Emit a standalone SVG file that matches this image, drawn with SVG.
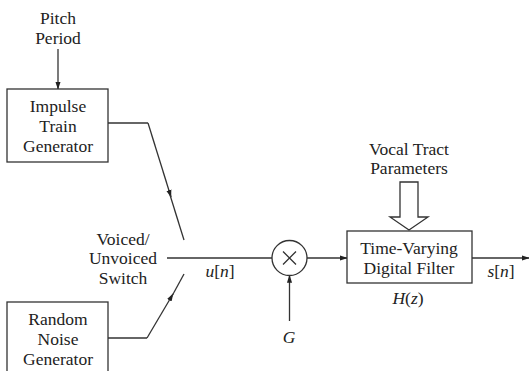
<svg xmlns="http://www.w3.org/2000/svg" width="529" height="371" viewBox="0 0 529 371">
<defs>
<style>
text{font-family:"Liberation Serif","Times New Roman",serif;font-size:17.5px;fill:#222;text-anchor:middle}
.it{font-style:italic}
.box{fill:#fff;stroke:#333;stroke-width:1.3}
.ln{fill:none;stroke:#333;stroke-width:1.3}
</style>
<marker id="ah" viewBox="0 0 10 10" refX="9" refY="5" markerWidth="8" markerHeight="8" markerUnits="userSpaceOnUse" orient="auto"><path d="M0,1.8 L10,5 L0,8.2 z" fill="#222"/></marker>
</defs>
<rect width="529" height="371" fill="#fff"/>
<g id="connectors">
<line class="ln" x1="58" y1="49" x2="58" y2="89" marker-end="url(#ah)"/>
<line class="ln" x1="108" y1="123" x2="148" y2="123"/>
<path class="ln" d="M148,123 L171,197" marker-end="url(#ah)"/>
<line class="ln" x1="170" y1="195" x2="184" y2="240"/>
<line class="ln" x1="108" y1="338" x2="147" y2="338"/>
<path class="ln" d="M147,338 L173,294" marker-end="url(#ah)"/>
<line class="ln" x1="172" y1="296" x2="184" y2="274"/>
<line class="ln" x1="167" y1="258" x2="272" y2="258"/>
<line class="ln" x1="307" y1="258" x2="347" y2="258" marker-end="url(#ah)"/>
<line class="ln" x1="289.5" y1="321" x2="289.5" y2="275.5" marker-end="url(#ah)"/>
<line class="ln" x1="472" y1="258" x2="529" y2="258" marker-end="url(#ah)"/>
<path class="ln" d="M400,182 L418,182 L418,217 L428,217 L409,230 L390,217 L400,217 Z"/>
</g>
<g id="pitch">
<text x="58" y="24">Pitch</text>
<text x="58" y="44">Period</text>
</g>
<g id="impulse">
<rect class="box" x="7" y="89" width="101" height="73"/>
<text x="58" y="112">Impulse</text>
<text x="58" y="132">Train</text>
<text x="58" y="152">Generator</text>
</g>
<g id="noise">
<rect class="box" x="7" y="302" width="101" height="80"/>
<text x="58" y="325">Random</text>
<text x="58" y="345">Noise</text>
<text x="58" y="365">Generator</text>
</g>
<g id="switch">
<text x="123" y="245">Voiced/</text>
<text x="123" y="264">Unvoiced</text>
<text x="123" y="284">Switch</text>
</g>
<g id="un"><text class="it" x="220" y="277">u<tspan font-style="normal">[</tspan>n<tspan font-style="normal">]</tspan></text></g>
<g id="mult">
<circle class="box" cx="289.5" cy="258" r="17.5"/>
<path class="ln" d="M283,251.5 L296,264.5 M296,251.5 L283,264.5" stroke-width="1"/>
</g>
<g id="gain"><text class="it" x="289" y="343">G</text></g>
<g id="vocal">
<text x="409" y="155">Vocal Tract</text>
<text x="409" y="174">Parameters</text>
</g>
<g id="filter">
<rect class="box" x="347" y="231" width="125" height="52"/>
<text x="409" y="254">Time-Varying</text>
<text x="409" y="274">Digital Filter</text>
<text class="it" x="408" y="304">H<tspan font-style="normal">(</tspan>z<tspan font-style="normal">)</tspan></text>
</g>
<g id="sn"><text class="it" x="501" y="277">s<tspan font-style="normal">[</tspan>n<tspan font-style="normal">]</tspan></text></g>
</svg>
